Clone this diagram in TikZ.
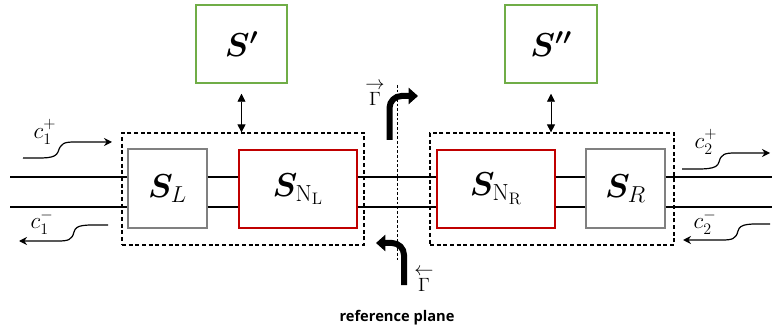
\documentclass[tikz,border=0pt]{standalone}
\usepackage{fontspec}
\usepackage{bm}
\usepackage{amsmath}
\usetikzlibrary{arrows.meta}
\newfontfamily\labelfont{Open Sans}
\definecolor{boxgreen}{RGB}{112,173,71}
\definecolor{boxred}{RGB}{192,0,0}
\definecolor{boxgray}{RGB}{128,128,128}
\tikzset{
  sbox/.style={draw, line width=1.1pt, inner sep=0pt, font=\fontsize{25}{28}\selectfont},
  dbox/.style={draw, line width=0.9pt, dash pattern=on 3pt off 2pt, inner sep=0pt},
  wire/.style={line width=0.9pt},
  wave/.style={line width=0.9pt, -{Stealth[length=6pt,width=6pt]}},
  dbl/.style={line width=0.6pt, {Triangle[length=6pt,width=6pt]}-{Triangle[length=6pt,width=6pt]}},
  fat/.style={line width=4.5pt, rounded corners=9pt, -{Triangle[length=7pt,width=12pt]}},
  clab/.style={font=\fontsize{17}{20}\selectfont, inner sep=0pt},
  glab/.style={font=\fontsize{15}{12}\selectfont, inner sep=0pt, align=center}
}
\begin{document}
\begin{tikzpicture}[x=0.75pt,y=-0.75pt]
\useasboundingbox (0,0) rectangle (774,331);
% dashed containers
\node[dbox, minimum width=181.5pt, minimum height=84pt] (DL) at (243,189) {};
\node[dbox, minimum width=183pt, minimum height=84pt] (DR) at (552,189) {};
% boxes
\node[sbox, draw=boxgreen, minimum width=68.25pt, minimum height=58.5pt] (Sp) at (241.5,44) {$\bm{S'}$};
\node[sbox, draw=boxgreen, minimum width=69pt, minimum height=58.5pt] (Spp) at (551,44) {$\bm{S''}$};
\node[sbox, draw=boxgray, minimum width=59.25pt, minimum height=59.25pt] (SL) at (167.5,188.5) {$\bm{S}_{L}$};
\node[sbox, draw=boxred, minimum width=88.5pt, minimum height=58.5pt] (SNL) at (298,189) {$\bm{S}_{\mathrm{N_L}}$};
\node[sbox, draw=boxred, minimum width=88.5pt, minimum height=58.5pt] (SNR) at (496,189) {$\bm{S}_{\mathrm{N_R}}$};
\node[sbox, draw=boxgray, minimum width=59.25pt, minimum height=59.25pt] (SR) at (625.5,188.5) {$\bm{S}_{R}$};
% wires
\coordinate (L1) at (10,177);
\coordinate (L2) at (10,207);
\coordinate (R1) at (772,177);
\coordinate (R2) at (772,207);
\foreach \c in {L1,L2}{
  \draw[wire] (\c) -- (\c -| SL.west);
  \draw[wire] (SL.east |- \c) -- (SNL.west |- \c);
  \draw[wire] (SNL.east |- \c) -- (SNR.west |- \c);
  \draw[wire] (SNR.east |- \c) -- (SR.west |- \c);
}
\foreach \c in {R1,R2}{
  \draw[wire] (SR.east |- \c) -- (\c);
}
% double arrows
\draw[dbl] (Sp.south) ++(0,10) coordinate (spa) -- (spa |- DL.north);
\draw[dbl] (Spp.south) ++(0,10) coordinate (sppa) -- (sppa |- DR.north);
% reference plane
\coordinate (rpT) at (397,85);
\coordinate (rpB) at (397,260);
\draw[line width=0.7pt, dash pattern=on 2pt off 1.5pt] (rpT) -- (rpB);
\node[font=\labelfont\bfseries\fontsize{11}{13}\selectfont] (rp) at (397,318) {reference plane};
% Gamma arrows
\coordinate (gA) at (389.5,140);
\coordinate (gAt) at (418,96);
\draw[fat] (gA) |- (gAt);
\node[glab] (gl1) at (375,94) {$\rightarrow$\\$\Gamma$};
\coordinate (gB) at (404,285);
\coordinate (gBt) at (376,243);
\draw[fat] (gB) |- (gBt);
\node[glab] (gl2) at (424,280) {$\leftarrow$\\$\Gamma$};
% waves
\coordinate (w1s) at (23,158); \coordinate (w1e) at (112,142);
\draw[wave] (w1s) .. controls (45,158) and (55,159) .. (58,152) .. controls (61,143) and (64,142) .. (75,142) -- (w1e);
\node[clab] (c1p) at (45,132) {$c_1^{+}$};
\coordinate (w2s) at (108,225); \coordinate (w2e) at (19,241);
\draw[wave] (w2s) .. controls (85,225) and (76,224) .. (74,232) .. controls (72,240) and (68,241) .. (58,241) -- (w2e);
\node[clab] (c1m) at (42,222) {$c_1^{-}$};
\coordinate (w3s) at (682,169); \coordinate (w3e) at (770,153);
\draw[wave] (w3s) .. controls (705,169) and (717,170) .. (719,162) .. controls (721,154) and (725,153) .. (735,153) -- (w3e);
\node[clab] (c2p) at (706,142) {$c_2^{+}$};
\coordinate (w4s) at (770,224); \coordinate (w4e) at (683,240);
\draw[wave] (w4s) .. controls (750,224) and (740,223) .. (738,231) .. controls (736,239) and (732,240) .. (722,240) -- (w4e);
\node[clab] (c2m) at (705,222) {$c_2^{-}$};
\end{tikzpicture}
\end{document}
